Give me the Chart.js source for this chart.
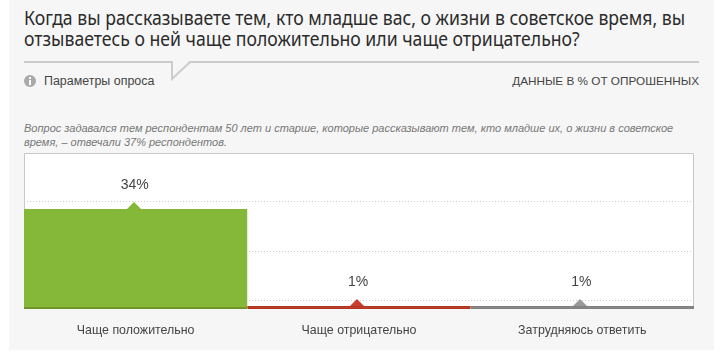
<!DOCTYPE html>
<html lang="ru">
<head>
<meta charset="utf-8">
<title>Опрос</title>
<script src="https://cdn.jsdelivr.net/npm/chart.js@4"></script>
<style>
  html, body { margin: 0; padding: 0; background: #fff; }
  #page { position: relative; width: 725px; height: 360px; overflow: hidden; }
  #panel { position: absolute; left: 9px; top: 0; width: 705px; height: 350px; background: #f6f6f6; }
  #page div.t { position: absolute; white-space: nowrap; font-family: "Liberation Sans", Arial, sans-serif; }
  #page #title { left: 24px; top: 8px; font-family: "Noto Sans", sans-serif; font-size: 19px; line-height: 21px; color: #2b2b2b; transform: scaleX(0.928); transform-origin: left top; }
  #params { left: 44px; top: 74px; font-size: 12.45px; line-height: 14px; color: #444; }
  #units { right: 26px; top: 74px; font-size: 11.75px; line-height: 14px; color: #444; }
  #note { left: 24px; top: 121px; font-size: 11px; line-height: 14px; font-style: italic; color: #777; }
  #deco { position: absolute; left: 0; top: 0; }
  canvas { position: absolute; left: 0; top: 0; }
</style>
</head>
<body>
<div id="page">
  <div id="panel"></div>
  <svg id="deco" width="725" height="100">
    <path d="M24 62 H172 V79 L190 62 H699" fill="none" stroke="#cccccc" stroke-width="2"/>
    <circle cx="30" cy="81" r="6" fill="#aaaaaa"/>
    <rect x="29" y="80" width="2" height="5" fill="#fff"/>
    <rect x="29" y="77" width="2" height="2" fill="#fff"/>
  </svg>
  <div class="t" id="title">Когда вы рассказываете тем, кто младше вас, о жизни в советское время, вы<br>отзываетесь о ней чаще положительно или чаще отрицательно?</div>
  <div class="t" id="params">Параметры опроса</div>
  <div class="t" id="units">ДАННЫЕ В % ОТ ОПРОШЕННЫХ</div>
  <div class="t" id="note">Вопрос задавался тем респондентам 50 лет и старше, которые рассказывают тем, кто младше их, о жизни в советское<br>время, – отвечали 37% респондентов.</div>
  <canvas id="chart" width="725" height="360"></canvas>
</div>

<script>
const categories = ["Чаще положительно", "Чаще отрицательно", "Затрудняюсь ответить"];
const values = [34, 1, 1];
const gridValues = [2.8, 19.7, 36.4];
const barColors = ["#85b739", "#b5341f", "#808080"];
const stripColors = ["#6b9127", "#b5341f", "#808080"];
const markerColors = ["#85b739", "#c8402c", "#999999"];

// white plot box behind the grid
const plotBox = {
  id: "plotBox",
  beforeDraw(chart) {
    const { ctx, chartArea: a } = chart;
    ctx.save();
    ctx.fillStyle = "#fff";
    ctx.fillRect(a.left, a.top, a.width, a.height);
    ctx.strokeStyle = "#c8c8c8";
    ctx.lineWidth = 1;
    ctx.beginPath();
    ctx.moveTo(a.left + 0.5, a.bottom);
    ctx.lineTo(a.left + 0.5, a.top + 0.5);
    ctx.lineTo(a.right - 0.5, a.top + 0.5);
    ctx.lineTo(a.right - 0.5, a.bottom);
    ctx.stroke();
    ctx.restore();
  }
};

// little triangle on top of each bar and the value above it
const barMarkers = {
  id: "barMarkers",
  afterDatasetsDraw(chart) {
    const ctx = chart.ctx;
    chart.getDatasetMeta(0).data.forEach((bar, i) => {
      const x = Math.round(bar.x) - 2;
      const y = Math.round(bar.y);
      ctx.save();
      ctx.fillStyle = markerColors[i];
      ctx.beginPath();
      ctx.moveTo(x - 7, y);
      ctx.lineTo(x, y - 7);
      ctx.lineTo(x + 7, y);
      ctx.closePath();
      ctx.fill();
      ctx.fillStyle = "#444";
      ctx.font = "14px 'Liberation Sans', Arial, sans-serif";
      ctx.textAlign = "center";
      ctx.textBaseline = "middle";
      ctx.fillText(values[i] + "%", bar.x - 1, y - 24);
      ctx.restore();
    });
  }
};

new Chart(document.getElementById("chart"), {
  type: "bar",
  data: {
    labels: categories,
    datasets: [{
      data: values,
      backgroundColor: barColors,
      borderColor: stripColors,
      borderWidth: { top: 0, left: 0, right: 0, bottom: 2 },
      borderSkipped: false,
      barPercentage: 1,
      categoryPercentage: 1
    }]
  },
  options: {
    responsive: false,
    animation: false,
    layout: { padding: { left: 24, right: 31, top: 153, bottom: 0 } },
    plugins: { legend: { display: false }, tooltip: { enabled: false } },
    scales: {
      x: {
        grid: { display: false },
        border: { display: false },
        ticks: {
          color: "#444",
          padding: 6,
          maxRotation: 0,
          font: { family: "'Liberation Sans', Arial, sans-serif", size: 12.4 }
        },
        afterFit(scale) { scale.height = 51; }
      },
      y: {
        display: true,
        min: 0,
        max: 53,
        afterBuildTicks(scale) { scale.ticks = gridValues.map(v => ({ value: v })); },
        afterFit(scale) { scale.width = 0; },
        ticks: { display: false },
        border: { display: false, dash: [1, 2] },
        grid: {
          color: "#cccccc",
          lineWidth: 1,
          drawTicks: false
        }
      }
    }
  },
  plugins: [plotBox, barMarkers]
});
</script>
</body>
</html>
